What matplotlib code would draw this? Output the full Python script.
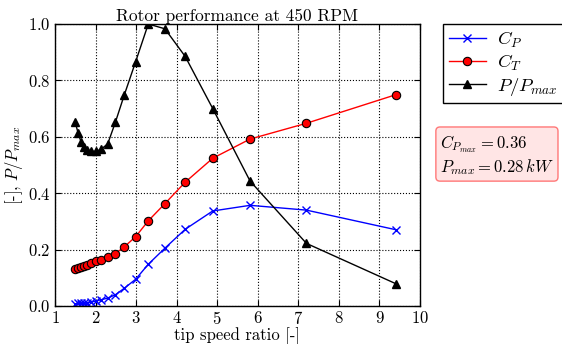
import matplotlib
matplotlib.use('Agg')
import matplotlib.pyplot as plt

# tip speed ratio and measured coefficients
tsr = [1.50, 1.57, 1.64, 1.72, 1.80, 1.89, 2.00, 2.13, 2.30, 2.49,
       2.71, 2.99, 3.30, 3.71, 4.21, 4.89, 5.81, 7.20, 9.42]
cp = [0.008, 0.009, 0.010, 0.011, 0.012, 0.014, 0.017, 0.022, 0.028, 0.040,
      0.063, 0.095, 0.148, 0.205, 0.272, 0.337, 0.357, 0.340, 0.270]
ct = [0.130, 0.134, 0.138, 0.142, 0.147, 0.152, 0.158, 0.164, 0.172, 0.186,
      0.210, 0.246, 0.302, 0.363, 0.439, 0.524, 0.592, 0.648, 0.750]
p_rel = [0.651, 0.613, 0.583, 0.565, 0.553, 0.548, 0.548, 0.555, 0.575, 0.652,
         0.749, 0.867, 1.000, 0.983, 0.885, 0.700, 0.443, 0.222, 0.078]

cp_max = 0.36
p_max_kw = 0.28

plt.rcParams['font.family'] = 'serif'
plt.rcParams['font.serif'] = ['cmr10', 'DejaVu Serif']
plt.rcParams['mathtext.fontset'] = 'cm'
plt.rcParams['axes.formatter.use_mathtext'] = True
plt.rcParams['font.size'] = 12

fig = plt.figure(figsize=(5.62, 3.44), dpi=100)
ax = fig.add_axes([55 / 562, 1 - 306 / 344, 365 / 562, 282 / 344])

ax.plot(tsr, cp, 'b-', lw=1.0, marker='x', markersize=6, markeredgewidth=1, label='$C_P$')
ax.plot(tsr, ct, 'r-', lw=1.0, marker='o', markersize=6, markerfacecolor='red',
        markeredgecolor='black', markeredgewidth=0.8, label='$C_T$')
ax.plot(tsr, p_rel, 'k-', lw=1.0, marker='^', markersize=6, label='$P/P_{max}$')

ax.set_xlim(1, 10)
ax.set_ylim(0, 1)
ax.set_xticks(range(1, 11))
ax.set_yticks([0.0, 0.2, 0.4, 0.6, 0.8, 1.0])
ax.tick_params(direction='in', top=True, right=True, length=4, pad=3)
ax.grid(True, linestyle=':', color='black', linewidth=0.8)
for s in ax.spines.values():
    s.set_linewidth(1.0)

ax.set_title('Rotor performance at 450 RPM', fontsize=12.5, pad=2)
ax.set_xlabel('tip speed ratio [-]', labelpad=0)
ax.set_ylabel('[-], $P/P_{max}$', labelpad=2)

leg = ax.legend(loc='upper left', bbox_to_anchor=(1.063, 1.0), fancybox=False,
                edgecolor='black', framealpha=1, borderaxespad=0, handlelength=2.0,
                fontsize=13.5, labelspacing=0.15, borderpad=0.3, handletextpad=0.6)
leg.get_frame().set_linewidth(1.0)

fig.text(440 / 562, 1 - 177 / 344,
         '$C_{P_{max}} = %.2f$\n$P_{max} = %.2f\\,kW$' % (cp_max, p_max_kw),
         fontsize=12, va='bottom', ha='left', linespacing=1.15,
         bbox=dict(boxstyle='round,pad=0.25', facecolor='#ffcccc',
                   edgecolor='red', alpha=0.5))

fig.savefig('out.png', dpi=100)
